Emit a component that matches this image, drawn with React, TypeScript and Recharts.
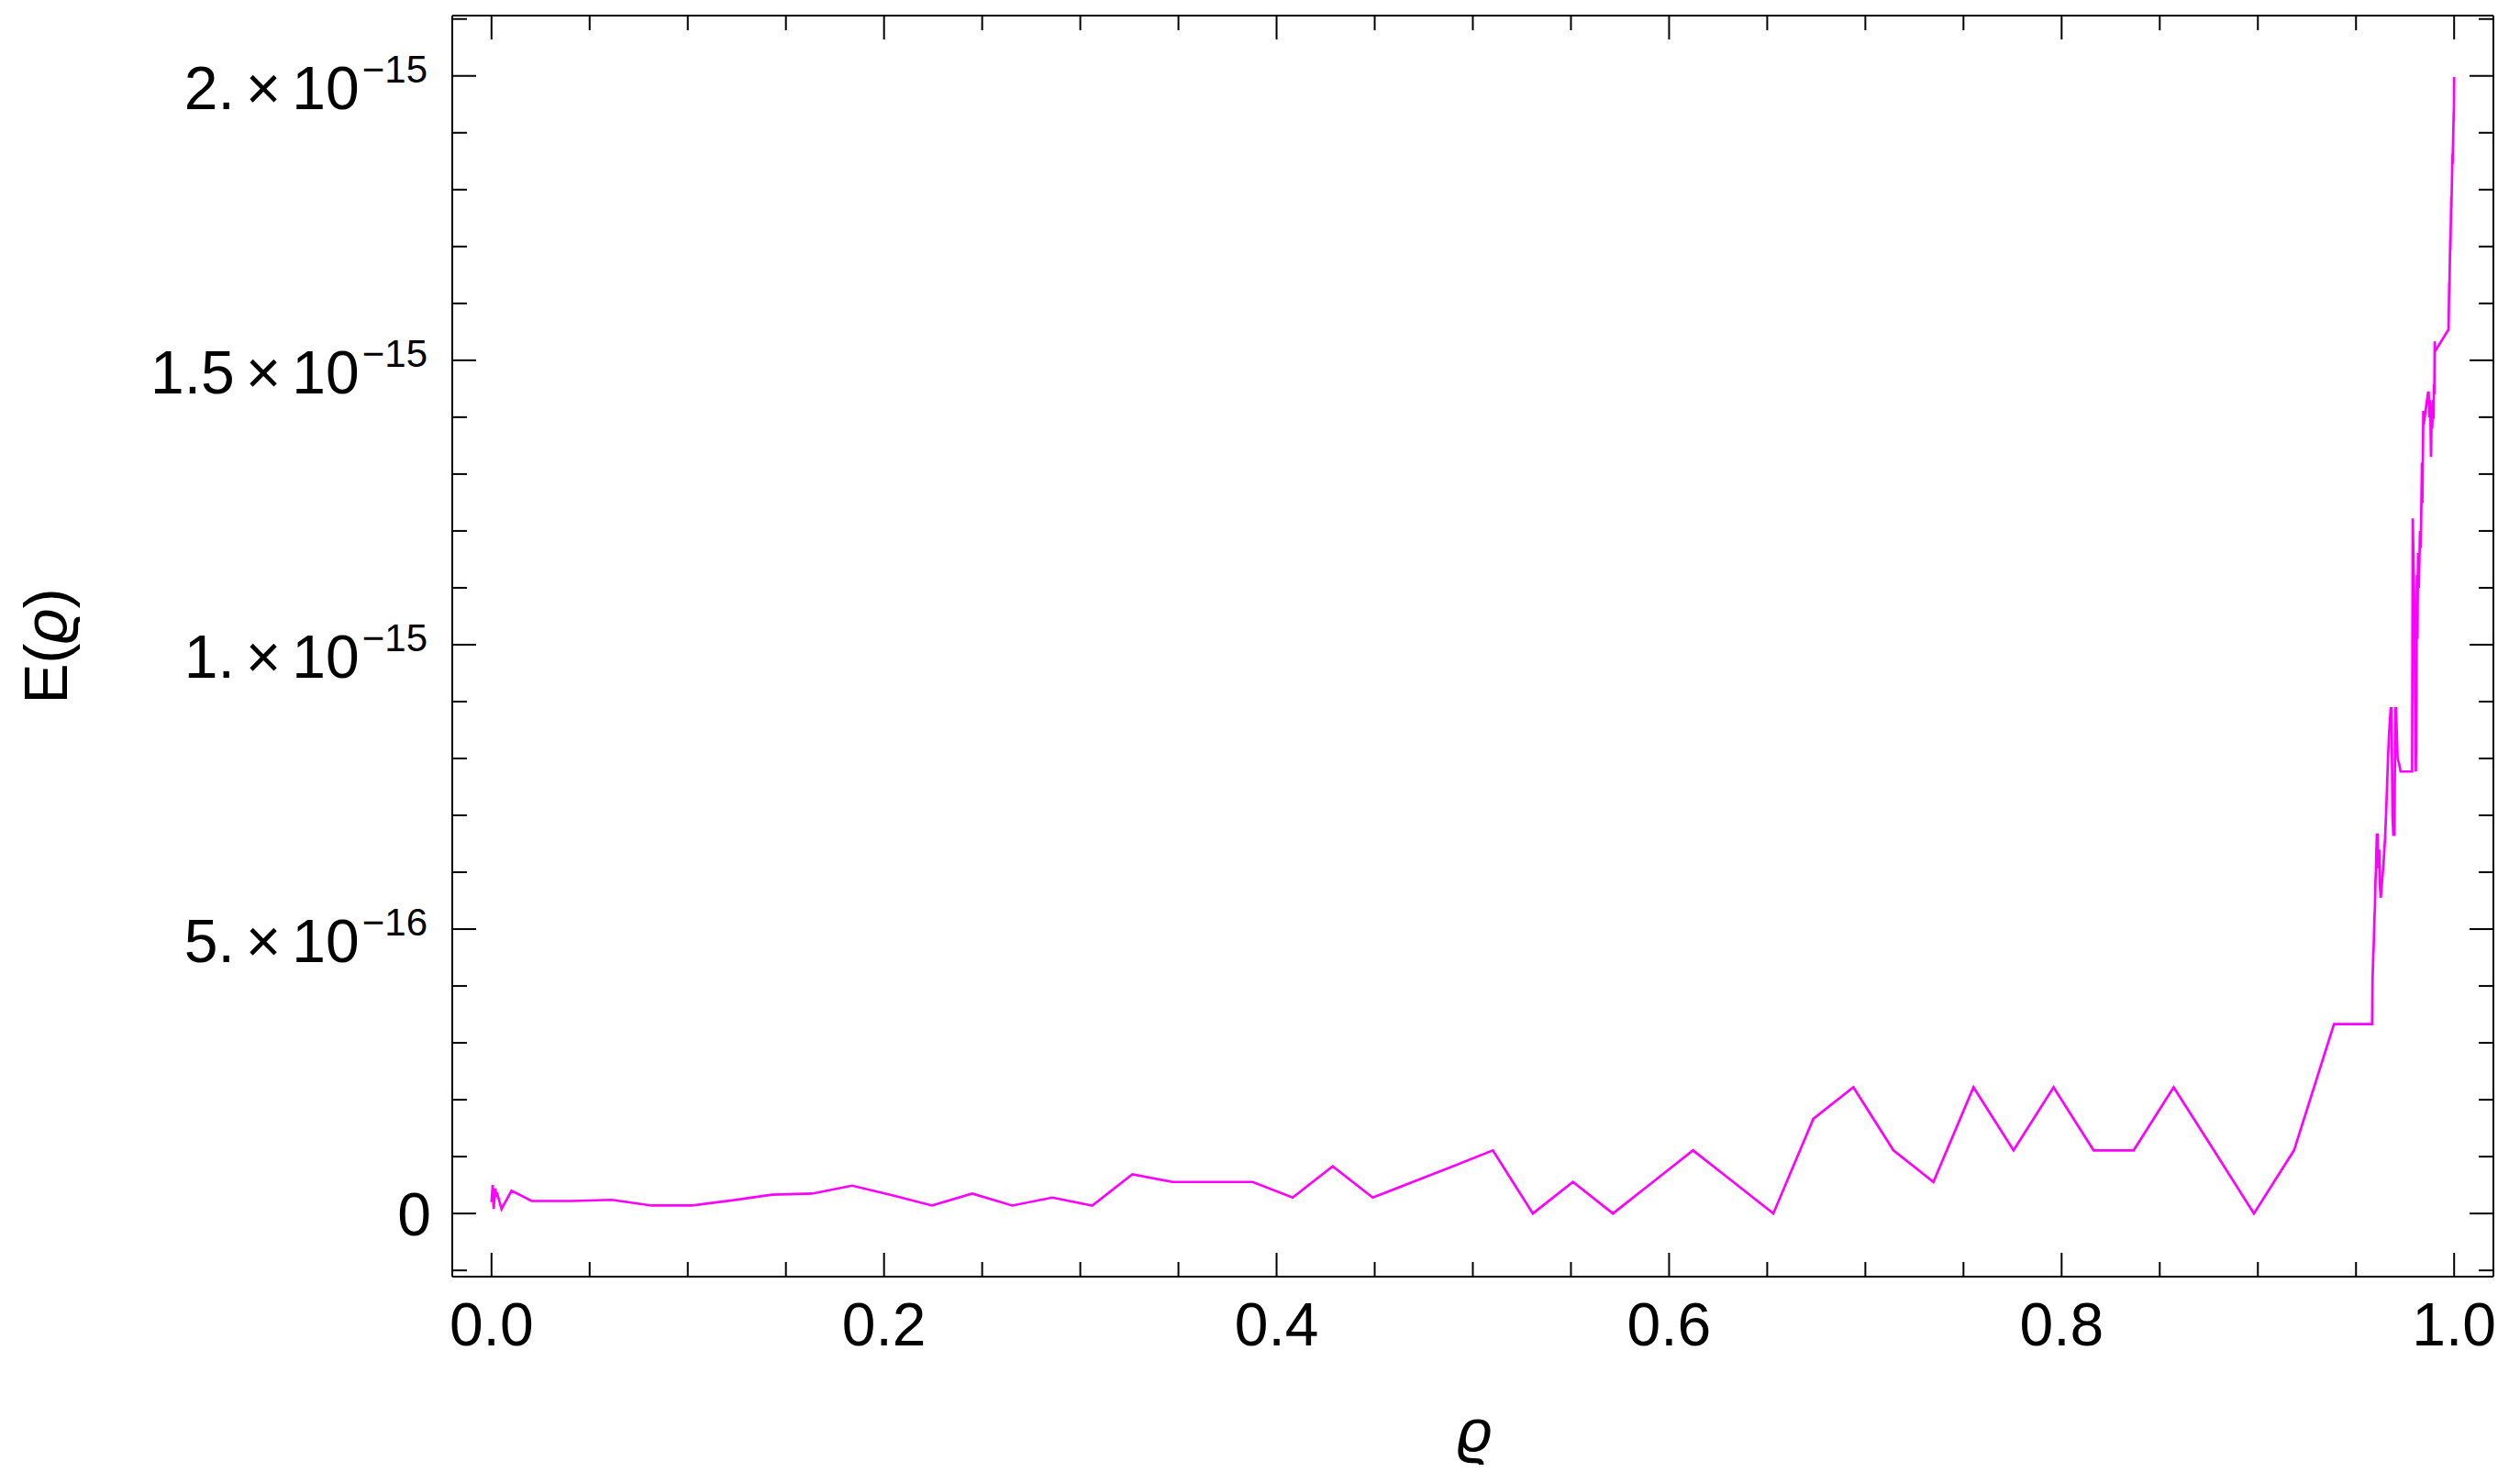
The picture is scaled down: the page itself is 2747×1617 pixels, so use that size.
import React from 'react';
import { LineChart, Line, XAxis, YAxis, ReferenceLine } from 'recharts';

// ρ sample points
const rhoValues = [
  0.0, 0.0006, 0.0011, 0.0019, 0.0025, 0.003, 0.0051, 0.0102,
  0.0204, 0.0408, 0.0612, 0.0816, 0.102, 0.1224, 0.1429, 0.1633, 0.1837, 0.2041,
  0.2245, 0.2449, 0.2653, 0.2857, 0.3061, 0.3265, 0.3469, 0.3673, 0.3878, 0.4082,
  0.4286, 0.449, 0.4694, 0.4898, 0.5102, 0.5306, 0.551, 0.5714, 0.5918, 0.6122,
  0.6327, 0.6531, 0.6735, 0.6939, 0.7143, 0.7347, 0.7551, 0.7755, 0.7959, 0.8163,
  0.8367, 0.8571, 0.8776, 0.898, 0.9184, 0.9388, 0.9582,
  0.9584, 0.9588, 0.959, 0.9594, 0.9596, 0.9599, 0.9601, 0.9606, 0.961, 0.9613,
  0.9618, 0.9621, 0.9626, 0.9633, 0.9641, 0.9648, 0.9654, 0.9659, 0.9663, 0.9668,
  0.9673, 0.9677, 0.9681, 0.9686, 0.969, 0.9696, 0.97, 0.9704, 0.9708, 0.9712,
  0.972, 0.9727, 0.9786, 0.9787, 0.9789, 0.9797, 0.9805, 0.9808, 0.981, 0.9813,
  0.9816, 0.982, 0.9826, 0.983, 0.9833, 0.9836, 0.9838, 0.9843, 0.9845, 0.9867,
  0.987, 0.9874, 0.9878, 0.9882, 0.9885, 0.9888, 0.9892, 0.9895, 0.9897, 0.9899,
  0.9901, 0.9903, 0.9971, 0.99715, 0.9975, 0.99755, 0.998, 0.99805, 0.99855, 0.9986,
  0.99915, 0.9992, 0.9998, 0.99985, 1.0,
];

// E(ρ) in units of 1e-16
const errorValues = [
  0.2, 0.5, 0.08, 0.44, 0.32, 0.34, 0.08, 0.4,
  0.22, 0.22, 0.24, 0.14, 0.14, 0.23, 0.33, 0.35, 0.49, 0.32,
  0.14, 0.35, 0.14, 0.28, 0.14, 0.69, 0.555, 0.555, 0.555, 0.28,
  0.83, 0.28, 0.555, 0.83, 1.11, 0.0, 0.555, 0.0, 0.555, 1.11,
  0.555, 0.0, 1.665, 2.22, 1.11, 0.555, 2.22, 1.11, 2.22, 1.11,
  1.11, 2.22, 1.11, 0.0, 1.11, 3.33, 3.33,
  4.08, 4.56, 4.7, 5.21, 5.34, 5.83, 5.99, 6.66, 6.66, 6.07,
  6.4, 5.8, 5.55, 5.85, 6.2, 6.6, 7.1, 7.6, 8.0, 8.4,
  8.7, 8.88, 8.88, 7.0, 6.66, 6.66, 8.88, 8.88, 8.4, 8.0,
  7.9, 7.77, 7.77, 9.5, 12.22, 10.7, 7.77, 9.0, 11.23, 10.1,
  11.61, 11.0, 12.0, 11.7, 12.5, 13.2, 12.49, 14.11, 13.87, 14.43,
  14.43, 14.0, 14.3, 13.3, 14.0, 13.8, 14.3, 13.97, 14.58, 14.4,
  15.33, 15.16, 15.54, 15.54, 16.37, 16.18, 17.12, 16.93, 17.87, 17.68,
  18.63, 18.45, 19.39, 19.2, 19.98, 19.98,
];

const xMajorTicks = [0, 0.2, 0.4, 0.6, 0.8, 1.0];
const xMinorTicks = [0.05, 0.1, 0.15, 0.25, 0.3, 0.35, 0.45, 0.5, 0.55, 0.65, 0.7, 0.75, 0.85, 0.9, 0.95];
const xTickLabels = ['0.0', '0.2', '0.4', '0.6', '0.8', '1.0'];

const yMajorTicks = [0, 5, 10, 15, 20];
const yMinorTicks = [-1, 1, 2, 3, 4, 6, 7, 8, 9, 11, 12, 13, 14, 16, 17, 18, 19, 21];
const yTickMantissas = ['0', '5.', '1.', '1.5', '2.'];
const yTickExponents = ['', '\u221216', '\u221215', '\u221215', '\u221215'];

const xDomain = [-0.02, 1.02];
const yDomain = [-1.11, 21.06];

const data = rhoValues.map((r, i) => ({ rho: r, e: errorValues[i] }));
const xTicks = [...xMajorTicks, ...xMinorTicks].sort((a, b) => a - b);
const yTicks = [...yMajorTicks, ...yMinorTicks].sort((a, b) => a - b);

// layout
const CHART_W = 2747;
const CHART_H = 1617;
const PLOT_LEFT = 493;
const PLOT_TOP = 17;
const PLOT_RIGHT = 2718;
const PLOT_BOTTOM = 1392;

const FONT = '"Liberation Sans", Arial, Helvetica, sans-serif';
const MAJOR = 26;
const MINOR = 16;
const TICK_W = 2;
const LABEL_SIZE = 66;
const SUP_SIZE = 42;

const findMajor = (list: number[], v: number) => list.findIndex((t) => Math.abs(t - v) < 1e-9);

function BottomTick(props: any) {
  const { x, payload } = props;
  const i = findMajor(xMajorTicks, payload.value);
  const len = i >= 0 ? MAJOR : MINOR;
  return (
    <g>
      <line x1={x} x2={x} y1={PLOT_BOTTOM} y2={PLOT_BOTTOM - len} stroke="#000" strokeWidth={TICK_W} />
      <line x1={x} x2={x} y1={PLOT_TOP} y2={PLOT_TOP + len} stroke="#000" strokeWidth={TICK_W} />
      {i >= 0 && (
        <text x={x} y={PLOT_BOTTOM + 75} textAnchor="middle" fontSize={LABEL_SIZE} fontFamily={FONT} fill="#000">
          {xTickLabels[i]}
        </text>
      )}
    </g>
  );
}

function LeftTick(props: any) {
  const { y, payload } = props;
  const i = findMajor(yMajorTicks, payload.value);
  const len = i >= 0 ? MAJOR : MINOR;
  let label = null;
  if (i >= 0) {
    if (yTickExponents[i] === '') {
      label = (
        <text x={PLOT_LEFT - 23} y={y + 24} textAnchor="end" fontSize={LABEL_SIZE} fontFamily={FONT} fill="#000">
          {yTickMantissas[i]}
        </text>
      );
    } else {
      label = (
        <text x={PLOT_LEFT - 27} y={y + 36} textAnchor="end" fontSize={LABEL_SIZE} fontFamily={FONT} fill="#000">
          <tspan>{yTickMantissas[i]}</tspan>
          <tspan dx={12}>{'\u00d7'}</tspan>
          <tspan dx={12}>10</tspan>
          <tspan dx={3} dy={-29} fontSize={SUP_SIZE}>{yTickExponents[i]}</tspan>
        </text>
      );
    }
  }
  return (
    <g>
      <line x1={PLOT_LEFT} x2={PLOT_LEFT + len} y1={y} y2={y} stroke="#000" strokeWidth={TICK_W} />
      <line x1={PLOT_RIGHT} x2={PLOT_RIGHT - len} y1={y} y2={y} stroke="#000" strokeWidth={TICK_W} />
      {label}
    </g>
  );
}

function XTitle() {
  return (
    <text x={(PLOT_LEFT + PLOT_RIGHT) / 2 + 2} y={PLOT_BOTTOM + 191} textAnchor="middle" fontSize={LABEL_SIZE} fontFamily={FONT} fontStyle="italic" fill="#000">
      {'\u03f1'}
    </text>
  );
}

function YTitle() {
  const cx = 73;
  const cy = (PLOT_TOP + PLOT_BOTTOM) / 2;
  return (
    <text x={cx} y={cy} transform={`rotate(-90, ${cx}, ${cy})`} textAnchor="middle" fontSize={LABEL_SIZE} fontFamily={FONT} fill="#000">
      <tspan>E(</tspan>
      <tspan fontStyle="italic">{'\u03f1'}</tspan>
      <tspan>)</tspan>
    </text>
  );
}

const axisLineStyle = { stroke: '#000', strokeWidth: 2 };

export default function App() {
  return (
    <div style={{ position: 'absolute', left: 0, top: 0, width: CHART_W, height: CHART_H, background: '#fff' }}>
      <LineChart
        width={CHART_W}
        height={CHART_H}
        data={data}
        margin={{ top: PLOT_TOP, right: CHART_W - PLOT_RIGHT, bottom: 0, left: 0 }}
      >
        <XAxis
          xAxisId="bottom"
          dataKey="rho"
          type="number"
          domain={xDomain}
          allowDataOverflow
          ticks={xTicks}
          interval={0}
          tick={<BottomTick />}
          tickLine={false}
          tickSize={0}
          tickMargin={0}
          height={CHART_H - PLOT_BOTTOM}
          axisLine={axisLineStyle}
          label={<XTitle />}
        />
        <YAxis
          yAxisId="left"
          type="number"
          domain={yDomain}
          allowDataOverflow
          ticks={yTicks}
          interval={0}
          tick={<LeftTick />}
          tickLine={false}
          tickSize={0}
          tickMargin={0}
          width={PLOT_LEFT}
          axisLine={axisLineStyle}
          label={<YTitle />}
        />
        <ReferenceLine xAxisId="bottom" yAxisId="left" y={yDomain[1]} stroke="#000" strokeWidth={2} ifOverflow="visible" />
        <ReferenceLine xAxisId="bottom" yAxisId="left" x={xDomain[1]} stroke="#000" strokeWidth={2} ifOverflow="visible" />
        <Line
          xAxisId="bottom"
          yAxisId="left"
          type="linear"
          dataKey="e"
          stroke="#ff00ff"
          strokeWidth={2.7}
          dot={false}
          activeDot={false}
          isAnimationActive={false}
        />
      </LineChart>
    </div>
  );
}
